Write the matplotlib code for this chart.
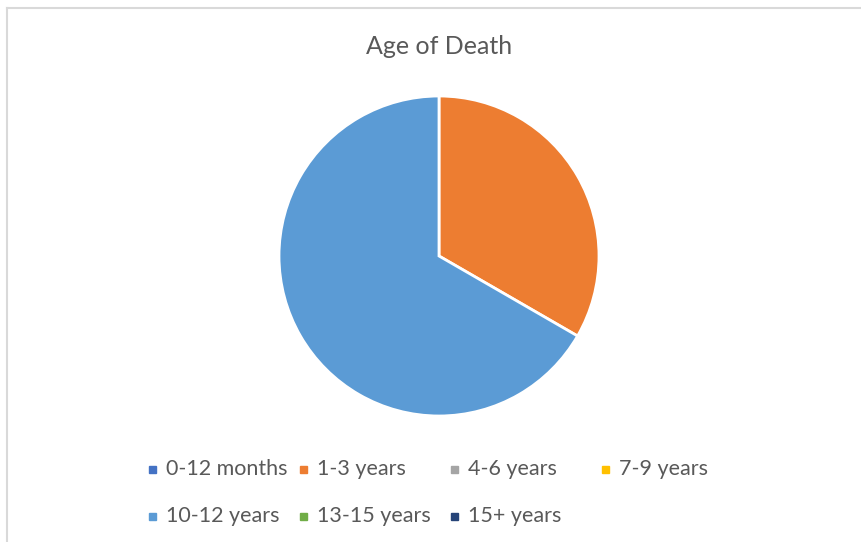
import matplotlib.pyplot as plt
from matplotlib.patches import Rectangle

categorias = ['0-12 months', '1-3 years', '4-6 years', '7-9 years',
              '10-12 years', '13-15 years', '15+ years']
muertes = [0, 1, 0, 0, 2, 0, 0]
colores = ['#4472C4', '#ED7D31', '#A5A5A5', '#FFC000',
           '#5B9BD5', '#70AD47', '#264478']

W, H = 861, 542
fig = plt.figure(figsize=(W / 100, H / 100), dpi=100)
plt.rcParams['font.family'] = ['Lato', 'DejaVu Sans']

# borde gris del area del grafico
fig.add_artist(plt.Line2D([6.5 / W, 1], [1 - 7.5 / H, 1 - 7.5 / H], color='#d9d9d9', lw=1.5))
fig.add_artist(plt.Line2D([6.5 / W, 6.5 / W], [0, 1 - 7.5 / H], color='#d9d9d9', lw=1.5))

# pastel (solo los valores distintos de cero)
vals = [v for v in muertes if v > 0]
cols = [c for v, c in zip(muertes, colores) if v > 0]
cx, cy, r = 439, 256, 160
ax = fig.add_axes([(cx - r) / W, (H - cy - r) / H, 2 * r / W, 2 * r / H])
ax.pie(vals, colors=cols, startangle=90, counterclock=False,
       wedgeprops={'edgecolor': 'white', 'linewidth': 2})
ax.set_xlim(-1, 1)
ax.set_ylim(-1, 1)
ax.set_aspect('auto')
ax.axis('off')

fig.text(cx / W, 1 - 46 / H, 'Age of Death', ha='center', va='center',
         fontsize=18, color='#595959')

# leyenda manual estilo Excel
col_x = [149, 300, 451, 602]
fila_y = [469, 516]
for i, (cat, c) in enumerate(zip(categorias, colores)):
    x = col_x[i % 4]
    y = fila_y[i // 4]
    fig.add_artist(Rectangle((x / W, 1 - (y + 3.5) / H), 7 / W, 7 / H,
                             color=c, transform=fig.transFigure))
    fig.text((x + 17) / W, 1 - y / H, cat, ha='left', va='center',
             fontsize=15.5, color='#595959')

plt.savefig('out.png', dpi=100)
